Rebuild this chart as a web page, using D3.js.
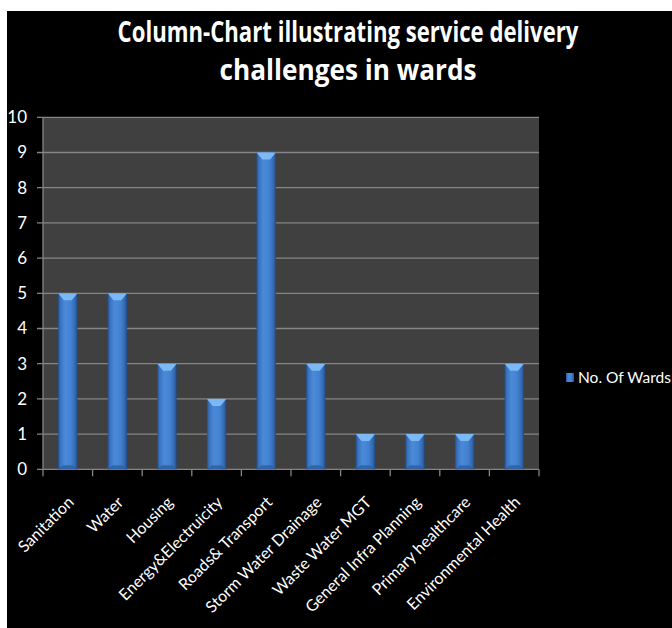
<!DOCTYPE html>
<html><head><meta charset="utf-8">
<script src="https://cdn.jsdelivr.net/npm/d3@7"></script>
<style>html,body{margin:0;padding:0;background:#fff;}svg{display:block;}</style>
</head><body>
<script>
const categories = ["Sanitation","Water","Housing","Energy&Electruicity","Roads& Transport","Storm Water Drainage","Waste Water MGT","General Infra Planning","Primary healthcare","Environmental Health"];
const wards = [5,5,3,2,9,3,1,1,1,3];
const yTicks = [0,1,2,3,4,5,6,7,8,9,10];
const seriesName = "No. Of Wards";
const titleLines = ["Column-Chart illustrating service delivery","challenges in wards"];

const W = 672, H = 628;
const svg = d3.select("body").append("svg").attr("width", W).attr("height", H);
const font = "Lato, 'Open Sans', sans-serif";

svg.append("rect").attr("width", W).attr("height", H).attr("fill", "#fff");
svg.append("rect").attr("x", 7).attr("y", 11).attr("width", W - 7).attr("height", H - 11).attr("fill", "#000");

const defs = svg.append("defs");
const g1 = defs.append("linearGradient").attr("id", "barg").attr("x1", 0).attr("x2", 1).attr("y1", 0).attr("y2", 0);
[[0,"#234f8a"],[0.12,"#3a73c0"],[0.35,"#4a8ad8"],[0.65,"#4483d2"],[0.88,"#3469b2"],[1,"#1f4a82"]].forEach(([o,c]) => g1.append("stop").attr("offset", o).attr("stop-color", c));

const x0 = 43, x1 = 539, yTop = 117.3, yBot = 469.3;
const x = d3.scaleBand().domain(categories).range([x0, x1]).paddingInner(0.61).paddingOuter(0.305);
const y = d3.scaleLinear().domain([0, 10]).range([yBot, yTop]);

svg.append("rect").attr("x", x0).attr("y", yTop).attr("width", x1 - x0).attr("height", yBot - yTop).attr("fill", "#404040");

// gridlines
svg.append("g").selectAll("line").data(yTicks).join("line")
  .attr("x1", x0 - 6).attr("x2", x1).attr("y1", d => y(d)).attr("y2", d => y(d))
  .attr("stroke", "#858585").attr("stroke-width", 1.3);
// left axis line
svg.append("line").attr("x1", x0).attr("x2", x0).attr("y1", yTop).attr("y2", yBot).attr("stroke", "#858585").attr("stroke-width", 1.3);
// bottom ticks
svg.append("g").selectAll("line").data(d3.range(categories.length + 1)).join("line")
  .attr("x1", i => x0 + i * (x1 - x0) / categories.length).attr("x2", i => x0 + i * (x1 - x0) / categories.length)
  .attr("y1", yBot).attr("y2", yBot + 7).attr("stroke", "#858585").attr("stroke-width", 1.3);

// y labels
svg.append("g").selectAll("text").data(yTicks).join("text")
  .attr("x", 27).attr("y", d => y(d)).attr("dy", "0.35em").attr("text-anchor", "end")
  .attr("fill", "#fff").attr("font-family", font).attr("font-size", 17).text(d => d);

// bars
const bars = svg.append("g").selectAll("g").data(wards).join("g");
bars.append("rect")
  .attr("x", (d, i) => x(categories[i])).attr("y", d => y(d))
  .attr("width", x.bandwidth()).attr("height", d => yBot - y(d))
  .attr("fill", "url(#barg)");
bars.append("path")
  .attr("d", (d, i) => {
    const bx = x(categories[i]), bw = x.bandwidth(), by = y(d);
    return `M${bx},${by}L${bx + bw},${by}L${bx + bw * 0.7},${by + 7}L${bx + bw * 0.3},${by + 7}Z`;
  })
  .attr("fill", "#80bcf5").attr("opacity", 0.95);
bars.append("path")
  .attr("d", (d, i) => {
    const bx = x(categories[i]), bw = x.bandwidth(), by = yBot;
    return `M${bx},${by}L${bx + bw},${by}L${bx + bw * 0.75},${by - 4}L${bx + bw * 0.25},${by - 4}Z`;
  })
  .attr("fill", "#2c5f9f").attr("opacity", 0.8);

// x labels
svg.append("g").selectAll("text").data(categories).join("text")
  .attr("transform", d => `translate(${x(d) + x.bandwidth() / 2 + 7},${yBot + 34}) rotate(-45)`)
  .attr("text-anchor", "end").attr("fill", "#fff").attr("font-family", font).attr("font-size", 16)
  .text(d => d);

// title (condensed by horizontal scaling to the reference widths)
const titleWidths = [461, 257];
svg.append("g").selectAll("text").data(titleLines).join("text")
  .attr("text-anchor", "middle").attr("fill", "#fff").attr("font-family", "'Open Sans', Lato, sans-serif")
  .attr("font-weight", "bold").attr("font-size", 29)
  .text(d => d)
  .each(function(d, i) {
    const w = this.getComputedTextLength();
    const sx = titleWidths[i] / w;
    d3.select(this).attr("transform", `translate(348,${42 + i * 38}) scale(${sx},1)`);
  });

// legend
svg.append("rect").attr("x", 566).attr("y", 373).attr("width", 8).attr("height", 9).attr("fill", "url(#barg)");
svg.append("text").attr("x", 578).attr("y", 378).attr("dy", "0.35em").attr("fill", "#fff")
  .attr("font-family", font).attr("font-size", 15.5).text(seriesName);
</script>
</body></html>
